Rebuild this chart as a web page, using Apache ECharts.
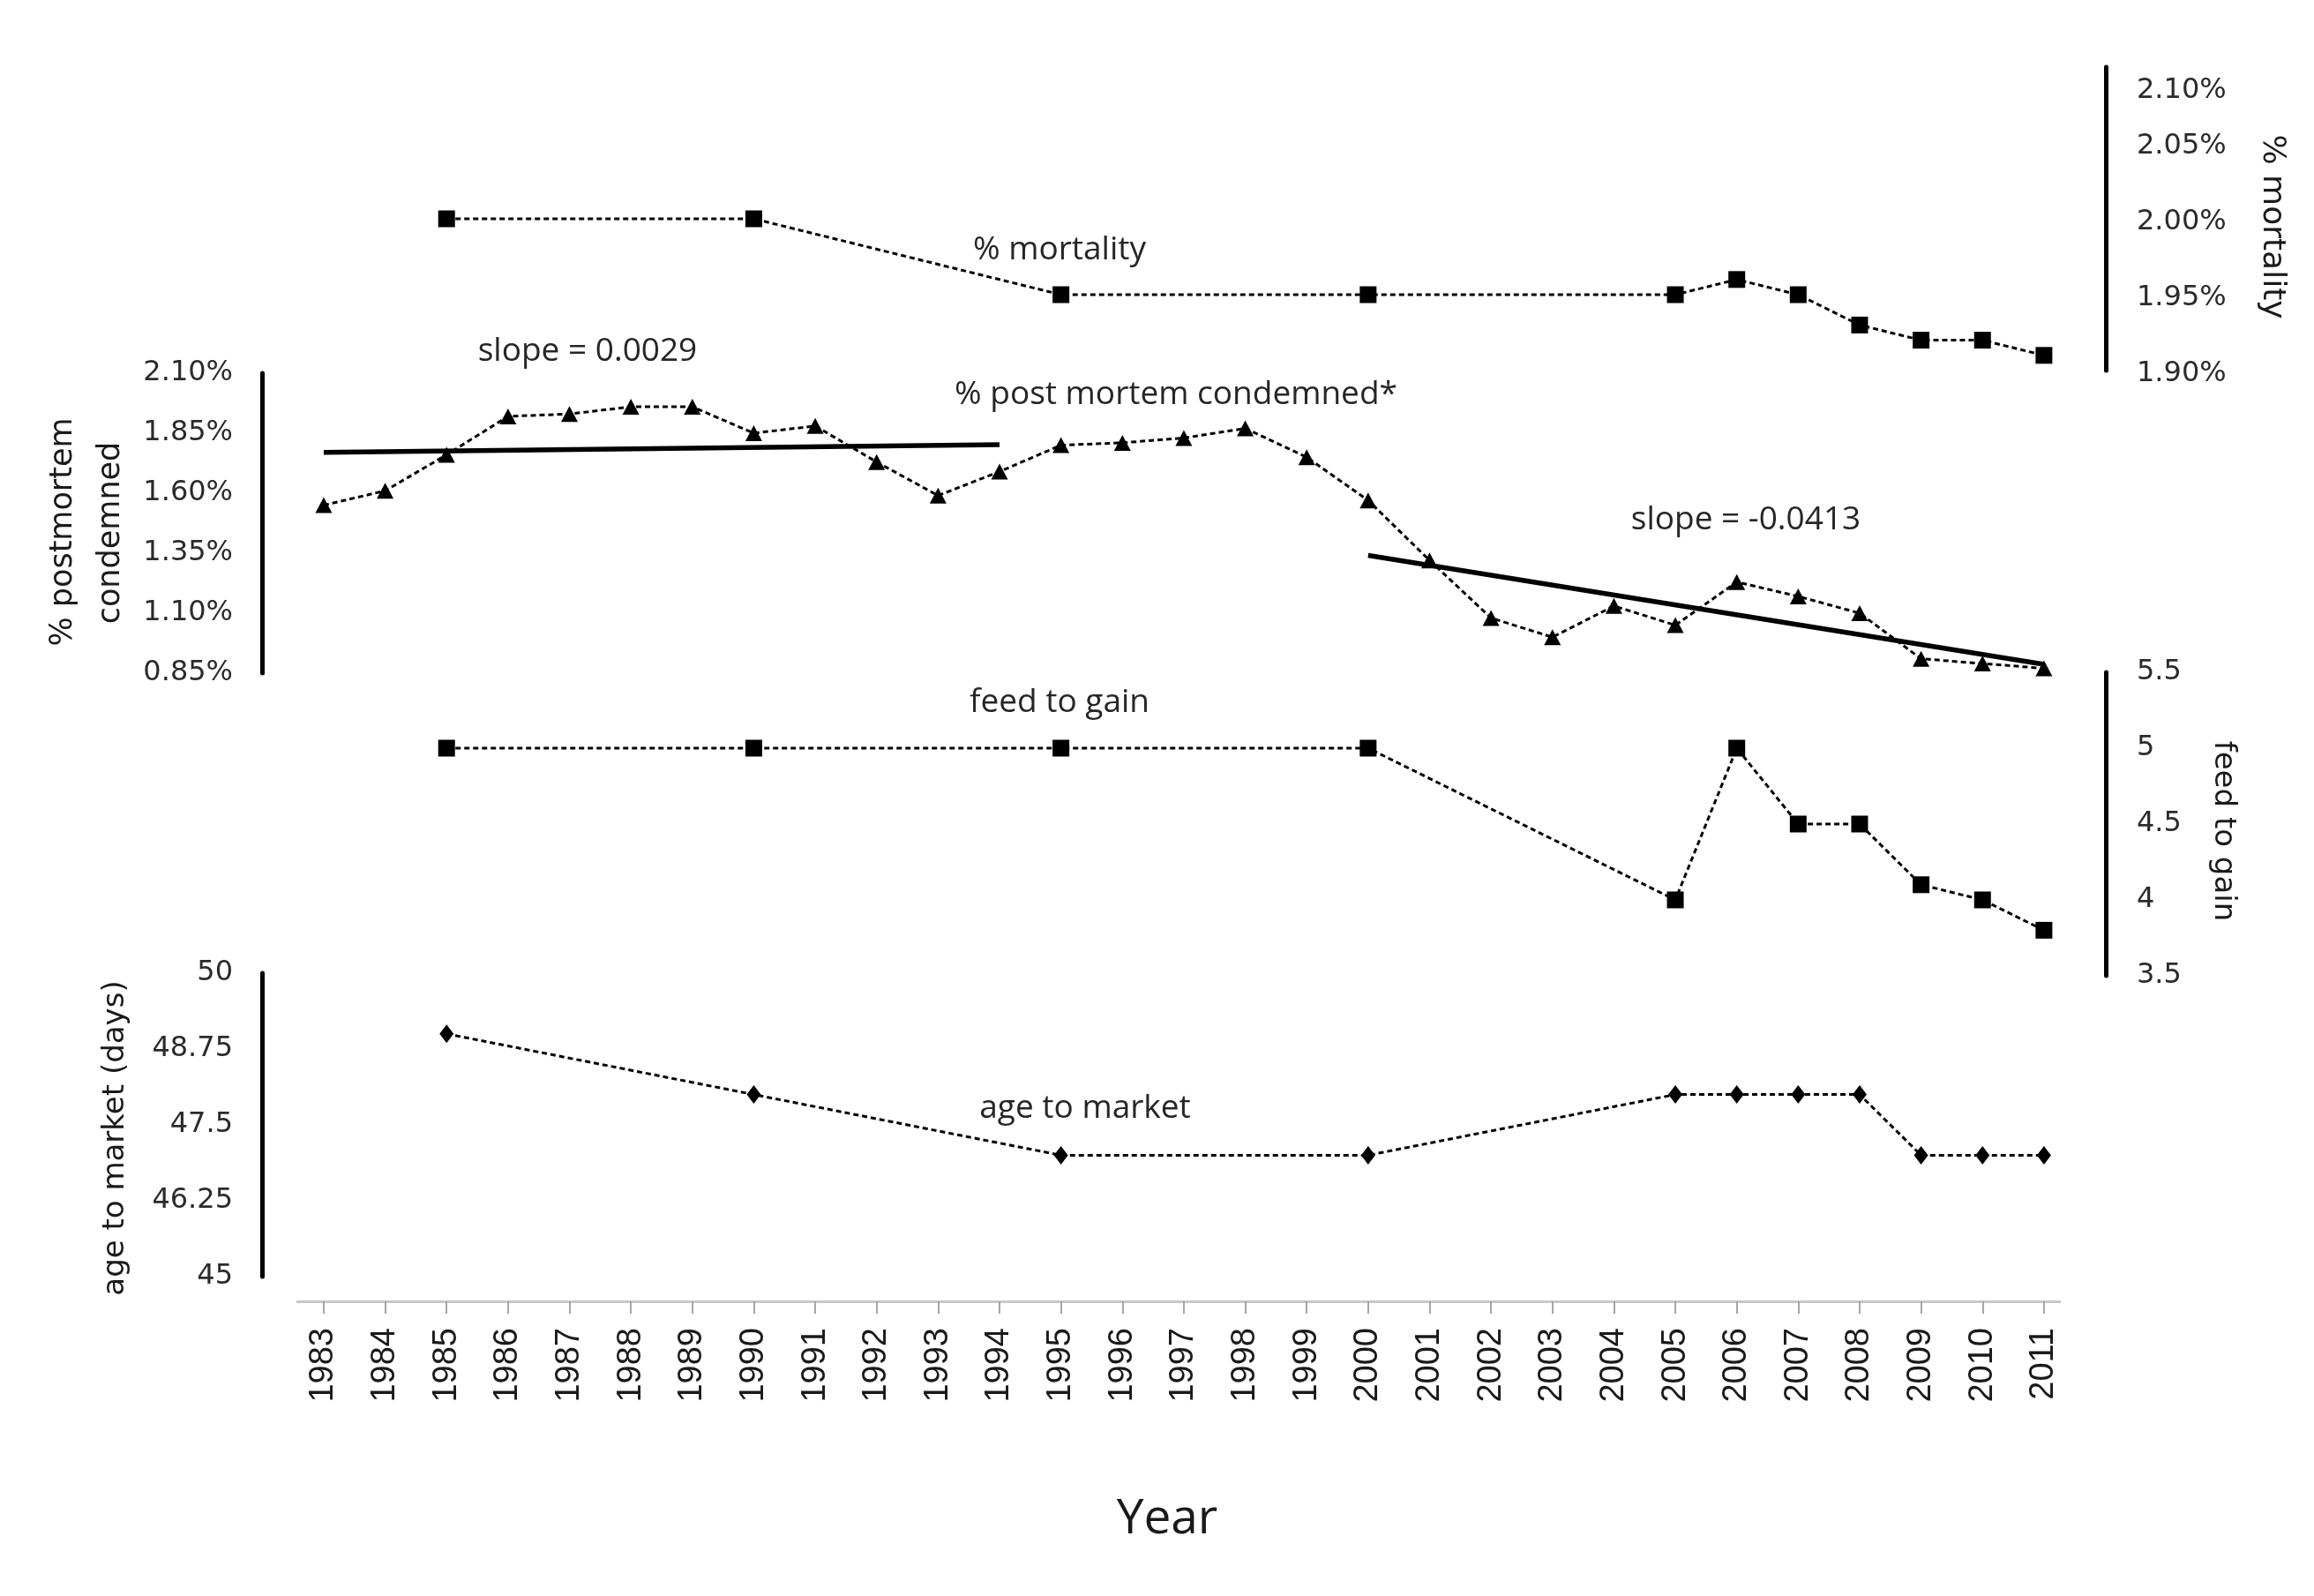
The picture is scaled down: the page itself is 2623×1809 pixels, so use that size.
<!DOCTYPE html>
<html>
<head>
<meta charset="utf-8">
<script src="https://cdn.jsdelivr.net/npm/echarts@6/dist/echarts.min.js"></script>
<style>
html,body{margin:0;padding:0;background:#fff;}
#chart{width:2623px;height:1809px;}
</style>
</head>
<body>
<div id="chart"></div>
<script>
// ---- data ----
var years = [1983,1984,1985,1986,1987,1988,1989,1990,1991,1992,1993,1994,1995,1996,1997,1998,1999,2000,2001,2002,2003,2004,2005,2006,2007,2008,2009,2010,2011];

var mortalityYears  = [1985,1990,1995,2000,2005,2006,2007,2008,2009,2010,2011];
var mortalityValues = [2.00,2.00,1.95,1.95,1.95,1.96,1.95,1.93,1.92,1.92,1.91];

var condemnedYears  = years;
var condemnedValues = [1.55,1.61,1.76,1.92,1.93,1.96,1.96,1.85,1.88,1.73,1.59,1.69,1.80,1.81,1.83,1.87,1.75,1.57,1.32,1.08,1.00,1.13,1.05,1.23,1.17,1.10,0.91,0.89,0.87];

var trend1Years  = [1983,1994];
var trend1Values = [1.770,1.802];
var trend2Years  = [2000,2011];
var trend2Values = [1.341,0.887];

var feedYears  = [1985,1990,1995,2000,2005,2006,2007,2008,2009,2010,2011];
var feedValues = [5.0,5.0,5.0,5.0,4.0,5.0,4.5,4.5,4.1,4.0,3.8];

var ageYears  = [1985,1990,1995,2000,2005,2006,2007,2008,2009,2010,2011];
var ageValues = [49.0,48.0,47.0,47.0,48.0,48.0,48.0,48.0,47.0,47.0,47.0];

function pairs(xs, ys){ return xs.map(function(x,i){ return [x, ys[i]]; }); }

// ---- styling ----
var LABEL_FONT = 'DejaVu Sans';
var ANNOT_FONT = 'Open Sans';
var dashStyle = {color:'#000', width:3, type:[6,4]};

var chart = echarts.init(document.getElementById('chart'), null, {renderer:'canvas'});

var gridLeft = 337, gridWidth = 1998;
var grids = [
  {left:gridLeft, width:gridWidth, top:76,   height:344},
  {left:gridLeft, width:gridWidth, top:423,  height:340},
  {left:gridLeft, width:gridWidth, top:762,  height:344},
  {left:gridLeft, width:gridWidth, top:1103, height:344}
];

function xAx(i, show){
  return {
    type:'value', gridIndex:i, min:1982.57, max:2011.26, show:show,
    offset: show ? 28 : 0,
    axisLine:{show:true, lineStyle:{color:'#c8c8c8', width:3}},
    axisTick:{show:true, length:14, lineStyle:{color:'#a6a6a6', width:2}, customValues: years},
    axisLabel:{show:true, rotate:90, margin:30, fontSize:38, fontFamily:'Liberation Sans', color:'#1a1a1a', customValues: years,
      formatter:function(v){ return String(v); }},
    splitLine:{show:false}
  };
}

function yAx(i, pos, min, max, interval, fmt, extra){
  var ax = {
    type:'value', gridIndex:i, position:pos, min:min, max:max, interval:interval,
    offset: pos === 'left' ? 40 : 52,
    axisLine:{show:true, lineStyle:{color:'#000', width:5}},
    axisTick:{show:false},
    splitLine:{show:false},
    axisLabel:{show:true, margin: pos === 'left' ? 33 : 35, fontSize:32, fontFamily:LABEL_FONT, color:'#2b2b2b',
      padding:[8,0,0,0], formatter:fmt}
  };
  if (extra) { for (var k in extra) ax.axisLabel[k] = extra[k]; }
  return ax;
}

var option = {
  animation:false,
  backgroundColor:'#fff',
  grid: grids,
  xAxis: [xAx(0,false), xAx(1,false), xAx(2,false), xAx(3,true)],
  yAxis: [
    yAx(0,'right',1.90,2.10,0.05,function(v){
      return v > 2.095 ? '{t|' + v.toFixed(2) + '%}' : v.toFixed(2) + '%';
    }, {rich:{t:{fontSize:32, fontFamily:LABEL_FONT, color:'#2b2b2b', padding:[46,0,0,0]}}}),
    yAx(1,'left',0.85,2.10,0.25,function(v){ return v.toFixed(2) + '%'; }),
    yAx(2,'right',3.5,5.5,0.5,function(v){ return String(+v.toFixed(2)); }),
    yAx(3,'left',45,50,1.25,function(v){ return String(+v.toFixed(2)); })
  ],
  series: [
    {type:'line', name:'% mortality', xAxisIndex:0, yAxisIndex:0, data:pairs(mortalityYears, mortalityValues),
      symbol:'rect', symbolSize:19, itemStyle:{color:'#000'}, lineStyle:dashStyle, clip:false},
    {type:'line', name:'% post mortem condemned*', xAxisIndex:1, yAxisIndex:1, data:pairs(condemnedYears, condemnedValues),
      symbol:'triangle', symbolSize:[19,18], itemStyle:{color:'#000'}, lineStyle:dashStyle, clip:false},
    {type:'line', name:'trend 1983-1994', xAxisIndex:1, yAxisIndex:1, data:pairs(trend1Years, trend1Values),
      symbol:'none', lineStyle:{color:'#000', width:5.5, type:'solid'}, clip:false, z:3},
    {type:'line', name:'trend 2000-2011', xAxisIndex:1, yAxisIndex:1, data:pairs(trend2Years, trend2Values),
      symbol:'none', lineStyle:{color:'#000', width:5.5, type:'solid'}, clip:false, z:3},
    {type:'line', name:'feed to gain', xAxisIndex:2, yAxisIndex:2, data:pairs(feedYears, feedValues),
      symbol:'rect', symbolSize:19, itemStyle:{color:'#000'}, lineStyle:dashStyle, clip:false},
    {type:'line', name:'age to market', xAxisIndex:3, yAxisIndex:3, data:pairs(ageYears, ageValues),
      symbol:'diamond', symbolSize:[16,21], itemStyle:{color:'#000'}, lineStyle:dashStyle, clip:false}
  ],
  graphic: []
};

function txt(text, x, y, size, family, rot, color){
  return {type:'text', x:x, y:y, rotation:rot || 0, silent:true,
    style:{text:text, fontSize:size, fontFamily:family, fill:color || '#222',
      align:'center', verticalAlign:'middle', textAlign:'center', textVerticalAlign:'middle'}};
}
var H = Math.PI/2;
option.graphic = [
  // axis names
  txt('% postmortem', 72, 603, 35, LABEL_FONT, H, '#1a1a1a'),
  txt('condemned', 126, 604, 35, LABEL_FONT, H, '#1a1a1a'),
  txt('age to market (days)', 131, 1290, 34, LABEL_FONT, H, '#1a1a1a'),
  txt('% mortality', 2575, 257, 36, LABEL_FONT, -H, '#1a1a1a'),
  txt('feed to gain', 2520, 942, 34, LABEL_FONT, -H, '#1a1a1a'),
  txt('Year', 1323, 1722, 55, ANNOT_FONT, 0, '#1a1a1a'),
  // series annotations
  txt('% mortality', 1201, 283, 37, ANNOT_FONT, 0, '#262626'),
  txt('slope = 0.0029', 666, 398, 37, ANNOT_FONT, 0, '#262626'),
  txt('% post mortem condemned*', 1333, 447, 37, ANNOT_FONT, 0, '#262626'),
  txt('slope = -0.0413', 1979, 589, 37, ANNOT_FONT, 0, '#262626'),
  txt('feed to gain', 1201, 796, 37, ANNOT_FONT, 0, '#262626'),
  txt('age to market', 1230, 1256, 37, ANNOT_FONT, 0, '#262626')
];

chart.setOption(option);
</script>
</body>
</html>
